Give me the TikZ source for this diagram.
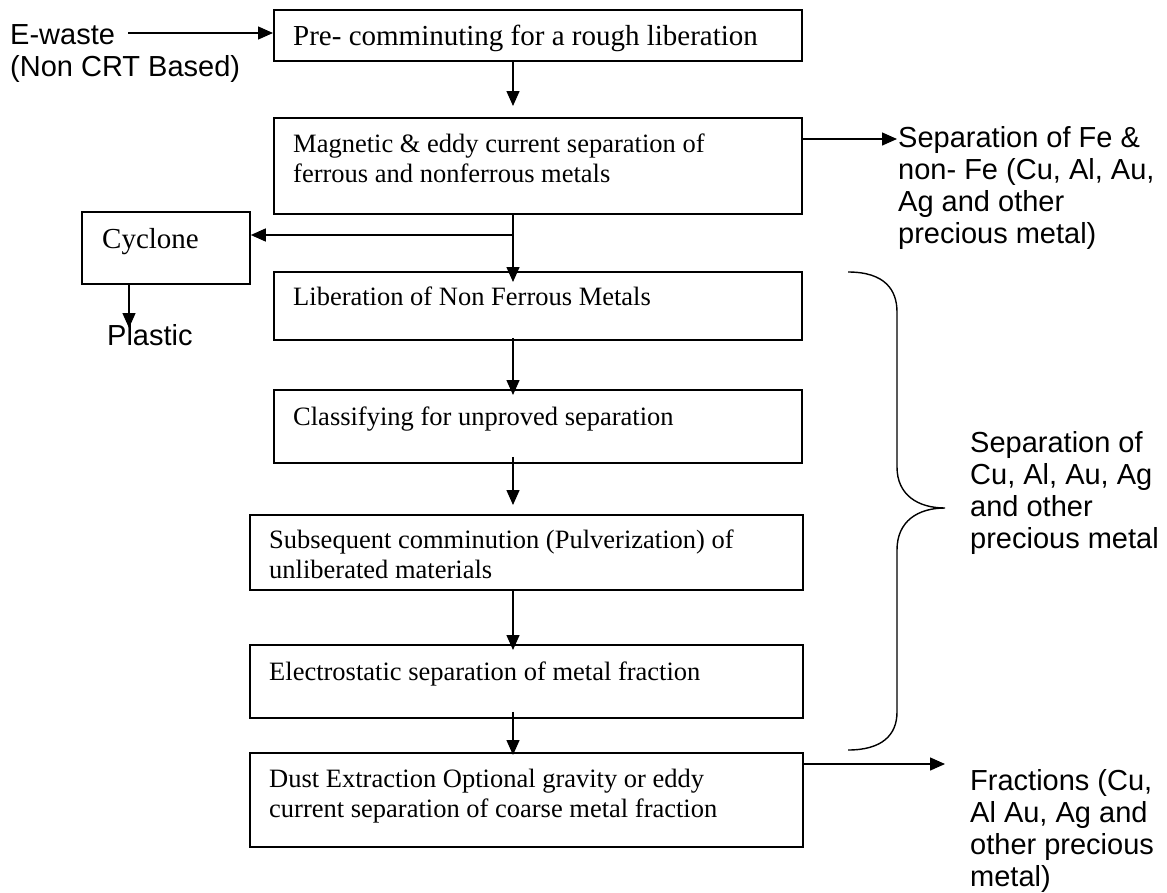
\documentclass[tikz,border=0pt]{standalone}
\usepackage{fontspec}
\setmainfont{Liberation Serif}
\newfontfamily\arialf{Liberation Sans}
\usetikzlibrary{arrows.meta}
\newcommand{\mlines}[1]{\begin{tabular}[t]{@{}l@{}}#1\end{tabular}}
\begin{document}
\begin{tikzpicture}[x=1pt, y=-1pt,
  box/.style={draw, line width=1.8pt, inner sep=0pt, anchor=north west},
  arr/.style={line width=1.4pt, -{Triangle[length=15pt, width=13pt]}},
  txt/.style={anchor=base west, inner sep=0pt, font=\fontsize{26.5}{30.5}\selectfont},
  bigtxt/.style={anchor=base west, inner sep=0pt, font=\fontsize{29}{31}\selectfont},
  sans/.style={anchor=base west, inner sep=0pt, font=\arialf\fontsize{29}{32}\selectfont},
  bracestyle/.style={line width=1.4pt}]
\fill[white] (0,0) rectangle (1167,892);
\useasboundingbox (0,0) rectangle (1167,892);

% boxes
\node[box, minimum width=528pt, minimum height=51pt] (b1) at (273,9) {};
\node[box, minimum width=528pt, minimum height=96pt] (b2) at (273,117) {};
\node[box, minimum width=528pt, minimum height=68pt] (b3) at (273,271) {};
\node[box, minimum width=528pt, minimum height=73pt] (b4) at (273,389) {};
\node[box, minimum width=553pt, minimum height=75pt] (b5) at (249,514) {};
\node[box, minimum width=553pt, minimum height=73pt] (b6) at (249,644) {};
\node[box, minimum width=553pt, minimum height=94pt] (b7) at (249,752) {};
\node[box, minimum width=168pt, minimum height=72pt] (cyc) at (81,211) {};

% box texts
\node[bigtxt] (t1) at (293,45) {Pre- comminuting for a rough liberation};
\node[txt] (t2) at (293,152) {\mlines{Magnetic \& eddy current separation of\\ferrous and nonferrous metals}};
\node[txt] (t3) at (293,305) {Liberation of Non Ferrous Metals};
\node[txt] (t4) at (293,425) {Classifying for unproved separation};
\node[txt] (t5) at (269,548) {\mlines{Subsequent comminution (Pulverization) of\\unliberated materials}};
\node[txt] (t6) at (269,680) {Electrostatic separation of metal fraction};
\node[txt] (t7) at (269,787) {\mlines{Dust Extraction Optional gravity or eddy\\current separation of coarse metal fraction}};
\node[bigtxt] (tcyc) at (102,248) {Cyclone};

% side labels
\node[sans] (ew) at (10,44) {\mlines{E-waste\\(Non CRT Based)}};
\node[sans] (pl) at (107,345) {Plastic};
\node[sans] (fe) at (898,147) {\mlines{Separation of Fe \&\\non- Fe (Cu, Al, Au,\\Ag and other\\precious metal)}};
\node[sans] (br) at (970,452) {\mlines{Separation of\\Cu, Al, Au, Ag\\and other\\precious metal}};
\node[sans] (fr) at (970,790) {\mlines{Fractions (Cu,\\Al Au, Ag and\\other precious\\metal)}};

% helper coordinates
\coordinate (spine) at (513,0);
\coordinate (jn) at (513,235);
\coordinate (ein) at (128,33);
\coordinate (feend) at (897,139);
\coordinate (frend) at (945,764);
\coordinate (plt) at (129,328);

% main flow arrows
\draw[arr, shorten >=11pt] (b1.south -| spine) -- (b2.north -| spine);
\draw[arr, shorten >=-11pt] (b2.south -| spine) -- (b3.north -| spine);
\draw[arr, shorten <=-3pt, shorten >=-6pt] (b3.south -| spine) -- (b4.north -| spine);
\draw[arr, shorten <=-7pt, shorten >=9pt] (b4.south -| spine) -- (b5.north -| spine);
\draw[arr, shorten >=-6pt] (b5.south -| spine) -- (b6.north -| spine);
\draw[arr, shorten <=-7pt, shorten >=-3pt] (b6.south -| spine) -- (b7.north -| spine);

% side arrows
\draw[arr] (ein) -- (ein -| b1.west);
\draw[arr] (jn) -- (jn -| cyc.east);
\draw[arr] (cyc.south -| plt) -- (plt);
\draw[arr] (b2.east |- feend) -- (feend);
\draw[arr] (b7.east |- frend) -- (frend);

% brace
\draw[bracestyle] (848,272) .. controls (885,272) and (897,290) .. (897,312)
  -- (897,467) .. controls (897,495) and (918,508) .. (945,508)
  .. controls (918,508) and (897,521) .. (897,550)
  -- (897,712) .. controls (897,735) and (882,750) .. (848,750);
\end{tikzpicture}
\end{document}
